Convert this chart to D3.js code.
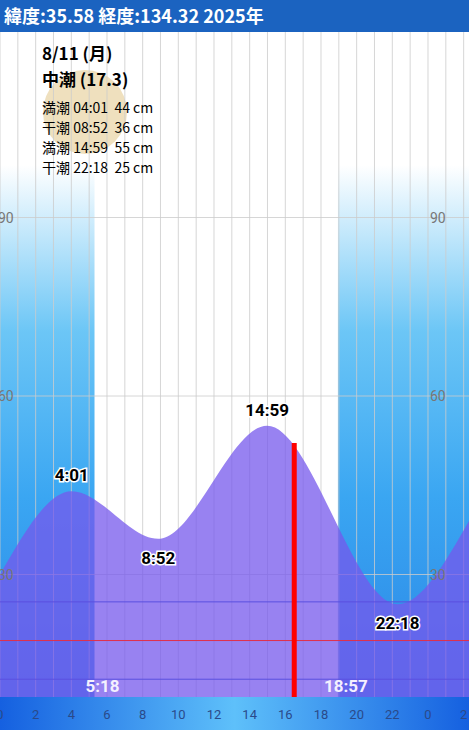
<!DOCTYPE html><html><head><meta charset="utf-8">
<script src="https://cdn.jsdelivr.net/npm/d3@7"></script>
<style>body{margin:0;overflow:hidden}svg{display:block}</style></head><body>
<script>
const headerText = "緯度:35.58 経度:134.32  2025年";
const dateText = "8/11 (月)";
const tideName = "中潮 (17.3)";
const tideTypes = ["満潮","干潮","満潮","干潮"];
const tideTimes = ["04:01","08:52","14:59","22:18"];
const tideLabels = ["4:01","8:52","14:59","22:18"];
const tideHours = [4.02, 8.87, 14.98, 22.3];
const tideHeights = [44, 36, 55, 25];
const edgeHours = [0, 26.3];
const edgeHeights = [30, 39];
const sunrise = 5.3, sunset = 18.95;
const sunLabels = ["5:18","18:57"];
const nowHour = 16.5;
const yTicks = [30, 60, 90];
const xTicks = [0,2,4,6,8,10,12,14,16,18,20,22,24,26];
const refLines = [{v:25.4,c:"#5a4fe0"},{v:18.9,c:"#e0304a"},{v:12.4,c:"#5a4fe0"}];

const W=469,H=730,chartTop=32,bot=697;
const svg=d3.select("body").append("svg").attr("width",W).attr("height",H).style("font-family","'Noto Sans CJK JP',sans-serif");
const x=d3.scaleLinear().domain([0,26.3]).range([0,W]);
const y=d3.scaleLinear().domain([0,30]).range([753,574.5]);
const defs=svg.append("defs");
const ng=defs.append("linearGradient").attr("id","night").attr("x1",0).attr("x2",0).attr("y1",0).attr("y2",1);
[[0,"#ffffff"],[0.2,"#ffffff"],[0.45,"#6cc6f6"],[0.7,"#3aa6f2"],[1,"#2a86e6"]].forEach(s=>ng.append("stop").attr("offset",s[0]).attr("stop-color",s[1]));
const ag=defs.append("linearGradient").attr("id","axis");
[[0,"#1560e0"],[0.5,"#5ec0fa"],[1,"#1560e0"]].forEach(s=>ag.append("stop").attr("offset",s[0]).attr("stop-color",s[1]));

svg.append("rect").attr("x",0).attr("y",chartTop).attr("width",W).attr("height",bot-chartTop).attr("fill","#fff");
svg.append("rect").attr("x",x(0)).attr("y",chartTop).attr("width",x(sunrise)).attr("height",bot-chartTop).attr("fill","url(#night)");
svg.append("rect").attr("x",x(sunset)).attr("y",chartTop).attr("width",W-x(sunset)).attr("height",bot-chartTop).attr("fill","url(#night)");
svg.append("circle").attr("cx",85).attr("cy",112).attr("r",42).attr("fill","#e9d6a8").attr("opacity",0.75);
for(let h=0;h<=26;h++) svg.append("line").attr("x1",x(h)).attr("x2",x(h)).attr("y1",chartTop).attr("y2",bot).attr("stroke","#ccc").attr("stroke-width",0.8);
yTicks.forEach(v=>svg.append("line").attr("x1",0).attr("x2",W).attr("y1",y(v)).attr("y2",y(v)).attr("stroke","#ccc").attr("stroke-width",0.8));
const pts=[[edgeHours[0],edgeHeights[0]]].concat(tideHours.map((h,i)=>[h,tideHeights[i]])).concat([[edgeHours[1],edgeHeights[1]]]);
const area=d3.area().x(d=>x(d[0])).y0(bot).y1(d=>y(d[1])).curve(d3.curveMonotoneX);
svg.append("path").attr("d",area(pts)).attr("fill","rgba(118,88,236,0.75)");
refLines.forEach(r=>svg.append("line").attr("x1",0).attr("x2",W).attr("y1",y(r.v)).attr("y2",y(r.v)).attr("stroke",r.c).attr("stroke-width",1));
svg.append("line").attr("x1",x(nowHour)).attr("x2",x(nowHour)).attr("y1",443).attr("y2",bot).attr("stroke","#f00").attr("stroke-width",5);
yTicks.forEach(v=>{
 svg.append("text").attr("x",-2).attr("y",y(v)+5).text(v).attr("fill","#777").attr("font-size",14).attr("font-family","Roboto");
 svg.append("text").attr("x",430).attr("y",y(v)+5).text(v).attr("fill","#777").attr("font-size",14).attr("font-family","Roboto");
});
tideHours.forEach((h,i)=>{
 const high=i%2===0;
 svg.append("text").attr("x",x(h)).attr("y",high?y(tideHeights[i])-10:y(tideHeights[i])+25).attr("text-anchor","middle")
  .text(tideLabels[i]).attr("font-size",17).attr("font-weight","bold").attr("font-family","Roboto")
  .attr("fill","#000").attr("stroke","#fff").attr("stroke-width",3).attr("paint-order","stroke");
});
[sunrise,sunset].forEach((h,i)=>svg.append("text").attr("x",x(h)+8).attr("y",692).attr("text-anchor","middle").text(sunLabels[i])
 .attr("fill","#f4f0ff").attr("font-size",17).attr("font-weight","bold").attr("font-family","Roboto"));
svg.append("rect").attr("x",0).attr("y",bot).attr("width",W).attr("height",H-bot).attr("fill","url(#axis)");
xTicks.forEach(t=>svg.append("text").attr("x",x(t)).attr("y",719).attr("text-anchor","middle").text(t%24)
 .attr("fill","#2a4a8a").attr("font-size",13).attr("font-family","Roboto"));
svg.append("rect").attr("x",0).attr("y",0).attr("width",W).attr("height",chartTop).attr("fill","#1b63c0");
svg.append("text").attr("x",4).attr("y",23).text(headerText).attr("fill","#fff").attr("font-size",18).attr("font-weight","bold");
svg.append("text").attr("x",42).attr("y",60).text(dateText).attr("font-size",17).attr("font-weight","bold");
svg.append("text").attr("x",42).attr("y",86).text(tideName).attr("font-size",17).attr("font-weight","bold");
tideTypes.forEach((t,i)=>svg.append("text").attr("x",42).attr("y",113+i*20).attr("font-size",14).attr("xml:space","preserve")
 .text(`${t} ${tideTimes[i]}  ${tideHeights[i]} cm`));
</script></body></html>
